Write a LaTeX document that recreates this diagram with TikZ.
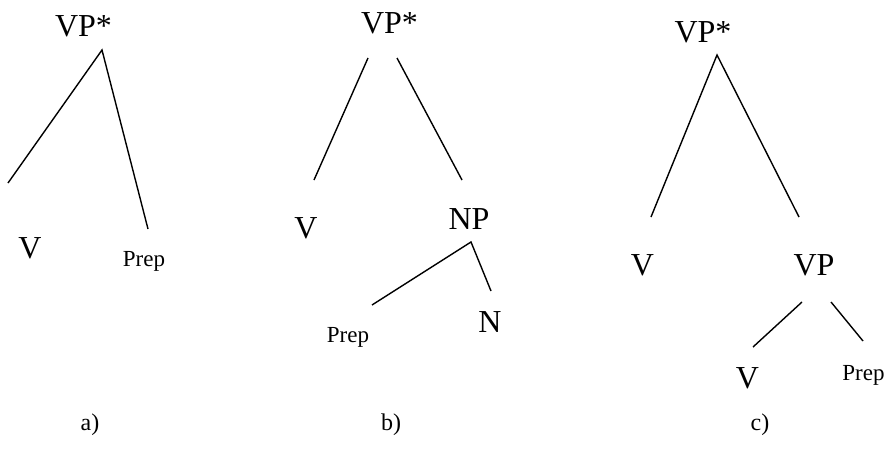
\documentclass[tikz,border=0pt]{standalone}
\usepackage{fontspec}
\setmainfont{Liberation Serif}
\begin{document}
\begin{tikzpicture}[x=1pt,y=-1pt,
  big/.style={inner sep=0pt,anchor=base,font=\fontsize{32}{36}\selectfont},
  small/.style={inner sep=0pt,anchor=base,font=\fontsize{23}{26}\selectfont},
  lbl/.style={inner sep=0pt,anchor=base,font=\fontsize{24}{28}\selectfont},
  edge/.style={line width=1.4pt}]
\useasboundingbox[fill=white] (0,0) rectangle (890,450);
% a)
\node[big] (aroot) at (83.5,36) {VP*};
\node[big] (av) at (30,258) {V};
\node[small] (aprep) at (144,266) {Prep};
\coordinate (aapex) at (102,50);
\coordinate (aleft) at (8,183);
\coordinate (aright) at (148,229);
\draw[edge] (aleft) -- (aapex) -- (aright);
\node[lbl] (la) at (90,430) {a)};
% b)
\node[big] (broot) at (389.5,33) {VP*};
\node[big] (bv) at (306,238) {V};
\node[big] (bnp) at (469,229) {NP};
\node[small] (bprep) at (348,342) {Prep};
\node[big] (bn) at (490,332) {N};
\coordinate (bl1) at (368,58);
\coordinate (bl2) at (314,180);
\coordinate (br1) at (397,58);
\coordinate (br2) at (462,180);
\draw[edge] (bl1) -- (bl2);
\draw[edge] (br1) -- (br2);
\coordinate (bnpapex) at (471,242);
\coordinate (bnpl) at (372,305);
\coordinate (bnpr) at (491,291);
\draw[edge] (bnpl) -- (bnpapex) -- (bnpr);
\node[lbl] (lb) at (391,430) {b)};
% c)
\node[big] (croot) at (703,42) {VP*};
\node[big] (cv) at (642.5,275) {V};
\node[big] (cvp) at (814,275) {VP};
\node[big] (cv2) at (747.5,388) {V};
\node[small] (cprep) at (863.5,380) {Prep};
\coordinate (capex) at (717,55);
\coordinate (cleft) at (651,217);
\coordinate (cright) at (799,217);
\draw[edge] (cleft) -- (capex) -- (cright);
\coordinate (cl1) at (802,302);
\coordinate (cl2) at (753,347);
\coordinate (cr1) at (831,302);
\coordinate (cr2) at (863,341);
\draw[edge] (cl1) -- (cl2);
\draw[edge] (cr1) -- (cr2);
\node[lbl] (lc) at (760,430) {c)};
\end{tikzpicture}
\end{document}
